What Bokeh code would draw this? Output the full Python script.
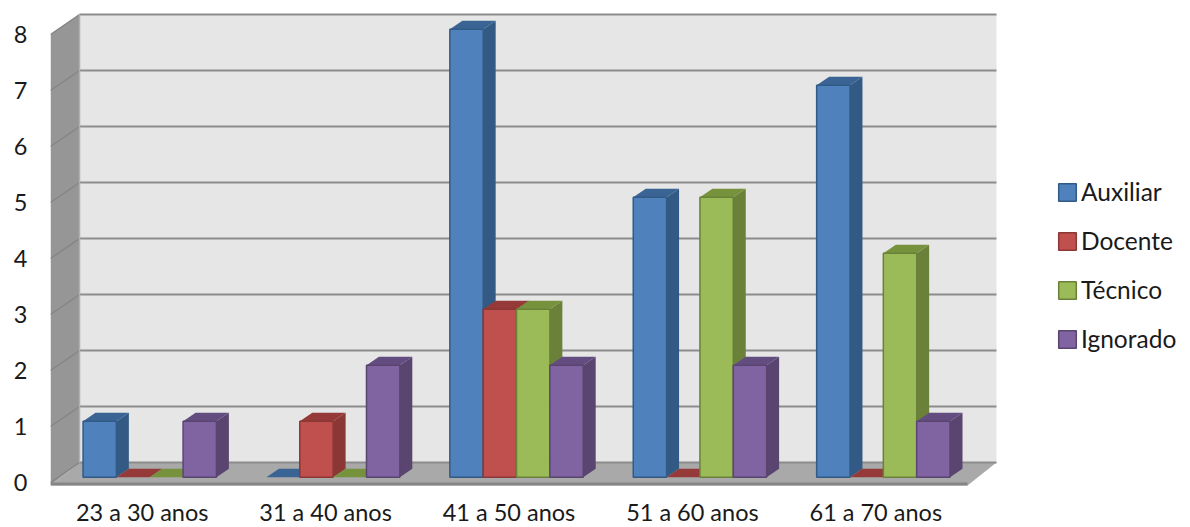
from bokeh.embed import file_html
from bokeh.models import FixedTicker, Legend, LegendItem, Range1d
from bokeh.plotting import figure
from bokeh.resources import INLINE

# Headcount per age bracket and staff category
categories = ["23 a 30 anos", "31 a 40 anos", "41 a 50 anos", "51 a 60 anos", "61 a 70 anos"]
series_names = ["Auxiliar", "Docente", "Técnico", "Ignorado"]
auxiliar = [1, 0, 8, 5, 7]
docente = [0, 1, 3, 0, 0]
tecnico = [0, 0, 3, 5, 4]
ignorado = [1, 2, 2, 2, 1]
value_ticks = [0, 1, 2, 3, 4, 5, 6, 7, 8]

series_values = [auxiliar, docente, tecnico, ignorado]

# Face colours per series
front_colors = ["#4f81bd", "#c0504d", "#9bbb59", "#8064a2"]
side_colors = ["#335a85", "#8b3735", "#6b8139", "#59456f"]
top_colors = ["#3a6494", "#953a38", "#76923c", "#634d80"]

# Plot scale in pixels per data unit
PX_PER_GROUP = 183.4
PX_PER_VALUE = 56.0
LEFT_PX = 50
ZERO_PX = 482
FRAME_BOTTOM_PX = 490

# Oblique projection: how far a unit of depth moves a point on screen, in data units
DEPTH_X = 29 / PX_PER_GROUP
DEPTH_Y = 20 / PX_PER_VALUE
BAR_DEPTH_FRONT = 0.26
BAR_DEPTH_BACK = 0.69
BAR_WIDTH = 1 / 5.5
GROUP_PAD = 0.75 * BAR_WIDTH
N_GROUPS = len(categories)
V_MAX = value_ticks[-1]

FONT = "Lato"
FONT_SIZE = "23.5px"
LEGEND_FONT_SIZE = "24.5px"
TEXT_COLOR = "#1a1a1a"


def project(x, v, depth):
    return x + depth * DEPTH_X, v + depth * DEPTH_Y


p = figure(
    width=1190,
    height=527,
    frame_width=1190 - LEFT_PX,
    frame_height=FRAME_BOTTOM_PX,
    output_backend="svg",
    toolbar_location=None,
    x_range=Range1d(0, (1190 - LEFT_PX) / PX_PER_GROUP),
    y_range=Range1d(-(FRAME_BOTTOM_PX - ZERO_PX) / PX_PER_VALUE, ZERO_PX / PX_PER_VALUE),
    min_border_left=LEFT_PX,
    min_border_right=0,
    min_border_top=0,
    min_border_bottom=37,
    background_fill_color="white",
    border_fill_color="white",
    outline_line_color=None,
)
p.grid.visible = False

# Back wall
bx0, bv0 = project(0, 0, 1)
bx1, bv1 = project(N_GROUPS, V_MAX, 1)
p.quad(left=bx0, right=bx1, bottom=bv0, top=bv1, fill_color="#e6e6e6", line_color=None)

# Left wall
floor_lip = 3 / PX_PER_VALUE
p.patch(
    [0, 0, bx0, bx0],
    [-floor_lip, V_MAX, bv1, bv0],
    fill_color="#969696",
    line_color=None,
)

# Floor with its front lip
p.patch(
    [0, N_GROUPS, project(N_GROUPS, 0, 1)[0], bx0],
    [-floor_lip, -floor_lip, project(N_GROUPS, 0, 1)[1], bv0],
    fill_color="#a9a9a9",
    line_color=None,
)
p.quad(left=0, right=N_GROUPS, bottom=-floor_lip, top=0, fill_color="#858585", line_color=None)

# Gridlines along the back wall and down the left wall
back_levels = [project(0, v, 1)[1] for v in value_ticks]
p.segment(
    x0=[bx0] * len(value_ticks),
    x1=[bx1] * len(value_ticks),
    y0=back_levels,
    y1=back_levels,
    line_color="#8c8c8c",
    line_width=2,
)
p.segment(
    x0=[0] * len(value_ticks),
    x1=[bx0] * len(value_ticks),
    y0=value_ticks,
    y1=back_levels,
    line_color="#858585",
    line_width=1.5,
)
p.segment(x0=[bx0], x1=[bx0], y0=[bv0], y1=[bv1], line_color="#b0b0b0", line_width=1.5)

# Bars, drawn left to right so that each one overlaps its neighbour's side face
front_renderers = [None] * len(series_values)
for g in range(N_GROUPS):
    for s, values in enumerate(series_values):
        v = values[g]
        xl = g + GROUP_PAD + s * BAR_WIDTH
        xr = xl + BAR_WIDTH
        fl, v0f = project(xl, 0, BAR_DEPTH_FRONT)
        fr, vtf = project(xr, v, BAR_DEPTH_FRONT)
        bl, vtb = project(xl, v, BAR_DEPTH_BACK)
        br, v0b = project(xr, 0, BAR_DEPTH_BACK)

        if v > 0:
            p.patch([fr, br, br, fr], [v0f, v0b, vtb, vtf], fill_color=side_colors[s], line_color=None)
        p.patch([fl, fr, br, bl], [vtf, vtf, vtb, vtb], fill_color=top_colors[s], line_color=None)
        if v > 0:
            r = p.vbar(
                x=[(fl + fr) / 2],
                width=fr - fl,
                bottom=[v0f],
                top=[vtf],
                fill_color=front_colors[s],
                line_color=side_colors[s],
                line_width=1.5,
            )
            if front_renderers[s] is None:
                front_renderers[s] = r

legend = Legend(
    items=[LegendItem(label=n, renderers=[r]) for n, r in zip(series_names, front_renderers)],
    location=(1006, 137),
    orientation="vertical",
    background_fill_alpha=0,
    border_line_color=None,
    glyph_width=22,
    glyph_height=22,
    label_height=22,
    label_standoff=3,
    spacing=20,
    padding=0,
    margin=0,
    label_text_font=FONT,
    label_text_font_size=LEGEND_FONT_SIZE,
    label_text_color=TEXT_COLOR,
)
p.add_layout(legend, "center")

# Axes
p.xaxis.ticker = FixedTicker(ticks=[i + 0.5 for i in range(N_GROUPS)])
p.xaxis.major_label_overrides = {i + 0.5: c for i, c in enumerate(categories)}
p.xaxis.axis_line_color = None
p.xaxis.major_tick_line_color = None
p.xaxis.minor_tick_line_color = None
p.xaxis.major_tick_out = 0
p.xaxis.major_label_standoff = 7
p.xaxis.major_label_text_font = FONT
p.xaxis.major_label_text_font_size = FONT_SIZE
p.xaxis.major_label_text_color = TEXT_COLOR

p.yaxis.ticker = FixedTicker(ticks=value_ticks)
p.yaxis.axis_line_color = None
p.yaxis.major_tick_line_color = None
p.yaxis.minor_tick_line_color = None
p.yaxis.major_tick_out = 0
p.yaxis.major_label_standoff = 23
p.yaxis.major_label_text_font = FONT
p.yaxis.major_label_text_font_size = FONT_SIZE
p.yaxis.major_label_text_color = TEXT_COLOR

open("out.html", "w").write(file_html(p, INLINE))
